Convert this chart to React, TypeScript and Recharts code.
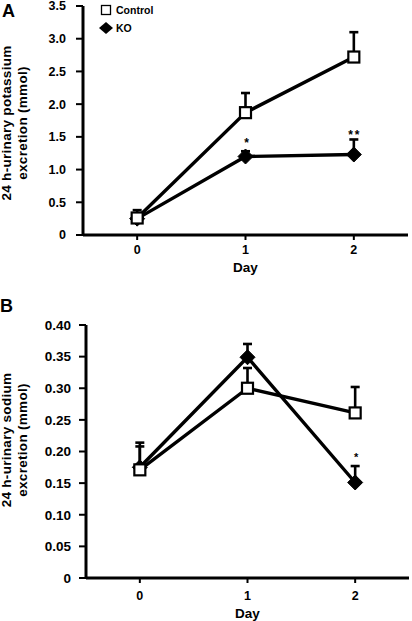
import React from "react";
import { LineChart, Line, XAxis, YAxis, ErrorBar, LabelList } from "recharts";

const FONT = '"Liberation Sans", Arial, Helvetica, sans-serif';

const days = [0, 1, 2];
const dayTicks = [0, 1, 2];

// A: potassium (mmol)
const kControl = [0.26, 1.87, 2.72];
const kControlErr = [0.12, 0.3, 0.38];
const kKO = [0.25, 1.2, 1.23];
const kKOErr = [0.08, 0.08, 0.23];
const kSig = ["", "*", "**"];
const kTicks = [0, 0.5, 1, 1.5, 2, 2.5, 3, 3.5];

// B: sodium (mmol)
const naControl = [0.171, 0.3, 0.261];
const naControlErr = [0.043, 0.032, 0.041];
const naKO = [0.175, 0.349, 0.151];
const naKOErr = [0.033, 0.021, 0.026];
const naSig = ["", "", "*"];
const naTicks = [0, 0.05, 0.1, 0.15, 0.2, 0.25, 0.3, 0.35, 0.4];

function buildRows(control: number[], controlErr: number[], ko: number[], koErr: number[], sig: string[]) {
  return days.map((d, i) => ({
    day: d,
    control: control[i],
    controlErr: [0, controlErr[i]],
    ko: ko[i],
    koErr: [0, koErr[i]],
    sig: sig[i],
  }));
}

const rowsA = buildRows(kControl, kControlErr, kKO, kKOErr, kSig);
const rowsB = buildRows(naControl, naControlErr, naKO, naKOErr, naSig);

function SquareDot(props: any) {
  const { cx, cy, index } = props;
  if (cx == null || cy == null) return null;
  return (
    <rect key={`sq-${index}`} x={cx - 5.5} y={cy - 5.5} width={11} height={11} fill="#fff" stroke="#000" strokeWidth={2.2} />
  );
}

function DiamondDot(props: any) {
  const { cx, cy, index } = props;
  if (cx == null || cy == null) return null;
  const r = 7.5;
  return (
    <polygon
      key={`dm-${index}`}
      points={`${cx},${cy - r} ${cx + r},${cy} ${cx},${cy + r} ${cx - r},${cy}`}
      fill="#000"
      stroke="#000"
      strokeWidth={1}
    />
  );
}

// puts the asterisks just over the error bar (or over the marker if the bar is hidden)
function sigLabel(errs: number[], pxPerUnit: number, gap: number, size: number) {
  return (props: any) => {
    const { index, value } = props;
    const x = props.x ?? props.viewBox?.x;
    const y = props.y ?? props.viewBox?.y;
    if (!value || x == null || y == null) return null;
    const top = Math.min(y - errs[index] * pxPerUnit, y - 9) - gap;
    return (
      <text key={`sig-${index}`} x={x + 1} y={top} textAnchor="middle" fontSize={size} fontWeight="bold" fontFamily={FONT} letterSpacing={value.length > 1 ? 2 : 0} fill="#000">
        {value}
      </text>
    );
  };
}

function YTitle({ lines, cy }: { lines: string[]; cy: number }) {
  const xs = [11, 27];
  return (
    <g>
      {lines.map((t, i) => (
        <text
          key={t}
          x={xs[i]}
          y={cy}
          transform={`rotate(-90, ${xs[i]}, ${cy})`}
          textAnchor="middle"
          fontSize={13.5}
          fontWeight="bold"
          fontFamily={FONT}
          letterSpacing={0.3}
          fill="#000"
        >
          {t}
        </text>
      ))}
    </g>
  );
}

type PanelProps = {
  rows: any[];
  height: number;
  margin: { top: number; right: number; bottom: number; left: number };
  yWidth: number;
  xHeight: number;
  yDomain: [number, number];
  yTicks: number[];
  decimals: number;
  yFont: number;
  yTickMargin: number;
  xTickMargin: number;
  dayOffset: number;
  title: string[];
  titleY: number;
  koErr: number[];
  sigGap: number;
  sigSize: number;
};

function Panel(p: PanelProps) {
  const plotH = p.height - p.margin.top - p.margin.bottom - p.xHeight;
  const pxPerUnit = plotH / (p.yDomain[1] - p.yDomain[0]);
  const axisStyle = { stroke: "#000", strokeWidth: 3 };
  const tickLine = { stroke: "#000", strokeWidth: 2 };
  return (
    <LineChart width={412} height={p.height} data={p.rows} margin={p.margin}>
      <XAxis
        type="number"
        dataKey="day"
        domain={[-0.5, 2.5]}
        ticks={dayTicks}
        height={p.xHeight}
        tickSize={5}
        tickMargin={p.xTickMargin}
        axisLine={axisStyle}
        tickLine={tickLine}
        tick={{ fill: "#000", fontSize: 12.5, fontWeight: "bold", fontFamily: FONT }}
        label={{ value: "Day", position: "insideBottom", offset: p.dayOffset, fill: "#000", fontSize: 13.5, fontWeight: "bold", fontFamily: FONT }}
      />
      <YAxis
        type="number"
        domain={p.yDomain}
        ticks={p.yTicks}
        interval={0}
        width={p.yWidth}
        tickSize={7}
        tickMargin={p.yTickMargin}
        axisLine={axisStyle}
        tickLine={tickLine}
        tickFormatter={(v: number) => (v === 0 ? "0" : v.toFixed(p.decimals))}
        tick={{ fill: "#000", fontSize: p.yFont, fontWeight: "bold", fontFamily: FONT }}
        label={<YTitle lines={p.title} cy={p.titleY} />}
      />
      {/* error bars first so the markers sit on top of them */}
      <Line dataKey="ko" stroke="none" dot={false} activeDot={false} legendType="none" isAnimationActive={false}>
        <ErrorBar dataKey="koErr" width={4.5} strokeWidth={2.6} stroke="#000" isAnimationActive={false} />
      </Line>
      <Line dataKey="control" stroke="none" dot={false} activeDot={false} legendType="none" isAnimationActive={false}>
        <ErrorBar dataKey="controlErr" width={4.5} strokeWidth={2.6} stroke="#000" isAnimationActive={false} />
      </Line>
      <Line dataKey="ko" name="KO" stroke="#000" strokeWidth={3.4} dot={DiamondDot} activeDot={false} isAnimationActive={false}>
        <LabelList dataKey="sig" content={sigLabel(p.koErr, pxPerUnit, p.sigGap, p.sigSize)} />
      </Line>
      <Line dataKey="control" name="Control" stroke="#000" strokeWidth={3.4} dot={SquareDot} activeDot={false} isAnimationActive={false} />
    </LineChart>
  );
}

export default function App() {
  return (
    <div style={{ position: "absolute", left: 0, top: 0, width: 412, height: 621, background: "#fff", fontFamily: FONT }}>
      <div style={{ position: "absolute", left: 0, top: 0 }}>
        <Panel
          rows={rowsA}
          height={280}
          margin={{ top: 6, right: 4, bottom: 0, left: 0 }}
          yWidth={83}
          xHeight={45}
          yDomain={[0, 3.5]}
          yTicks={kTicks}
          decimals={1}
          yFont={12.5}
          yTickMargin={10}
          xTickMargin={5}
          dayOffset={8}
          title={["24 h-urinary potassium", "excretion (mmol)"]}
          titleY={123}
          koErr={kKOErr}
          sigGap={0}
          sigSize={12}
        />
      </div>
      <div style={{ position: "absolute", left: 0, top: 310 }}>
        <Panel
          rows={rowsB}
          height={311}
          margin={{ top: 15, right: 3, bottom: 0, left: 0 }}
          yWidth={86}
          xHeight={43}
          yDomain={[0, 0.4]}
          yTicks={naTicks}
          decimals={2}
          yFont={13.5}
          yTickMargin={8}
          xTickMargin={8}
          dayOffset={3}
          title={["24 h-urinary sodium", "excretion (mmol)"]}
          titleY={130}
          koErr={naKOErr}
          sigGap={5}
          sigSize={11}
        />
      </div>
      <svg width={412} height={621} style={{ position: "absolute", left: 0, top: 0, pointerEvents: "none" }}>
        <text x={2} y={17} fontSize={18} fontWeight="bold" fontFamily={FONT} fill="#000">A</text>
        <text x={0} y={312} fontSize={18} fontWeight="bold" fontFamily={FONT} fill="#000">B</text>
        <rect x={101.5} y={5.5} width={9} height={9} fill="#fff" stroke="#000" strokeWidth={1.3} />
        <text x={116} y={13.7} fontSize={10.5} fontWeight="bold" fontFamily={FONT} fill="#000">Control</text>
        <polygon points="106,22 113,28 106,34 99,28" fill="#000" />
        <text x={116} y={31.7} fontSize={10.5} fontWeight="bold" fontFamily={FONT} fill="#000">KO</text>
      </svg>
    </div>
  );
}
